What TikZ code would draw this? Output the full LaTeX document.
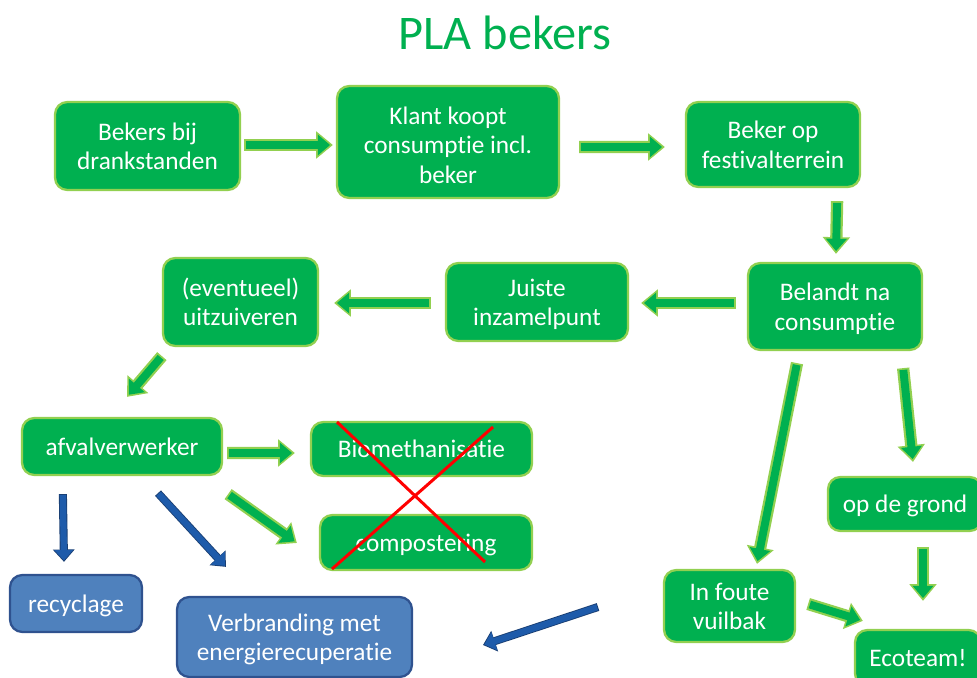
\documentclass[tikz,border=0pt]{standalone}
\usepackage{fontspec}
\setmainfont{Carlito}[Ligatures=NoCommon]
\usetikzlibrary{positioning,arrows.meta,calc}

\definecolor{gfill}{HTML}{00B050}
\definecolor{gline}{HTML}{92D050}
\definecolor{bfill}{HTML}{4F81BD}
\definecolor{bline}{HTML}{2F528F}
\definecolor{afill}{HTML}{1E5BAA}
\definecolor{aline}{HTML}{1A3F73}

\begin{document}
\begin{tikzpicture}[
  x=0.02cm, y=-0.02cm,
  box/.style={rounded corners=7pt, line width=1.3pt, text=white, align=center,
    font=\fontsize{14.4}{16.8}\selectfont, inner sep=2pt, text depth=0pt},
  r1/.style={text height=9.9pt},
  r2/.style={text height=27pt},
  r3/.style={text height=47pt},
  gbox/.style={box, draw=gline, fill=gfill},
  bbox/.style={box, draw=bline, fill=bfill},
  garrow/.style={draw=gfill, line width=4.5pt, -{Triangle[length=7pt,width=11.5pt]},
    shorten >=1.6pt, shorten <=1pt,
    preaction={draw=gline, line width=7pt, -{Triangle[length=9.5pt,width=15pt]},
      shorten >=0pt, shorten <=0pt}},
  barrow/.style={draw=afill, line width=3.6pt, -{Triangle[length=6pt,width=10.5pt]},
    shorten >=0.8pt, shorten <=0.5pt,
    preaction={draw=aline, line width=4.6pt, -{Triangle[length=7pt,width=12pt]},
      shorten >=0pt, shorten <=0pt}},
  cross/.style={draw=red, line width=1.7pt}
]
  \useasboundingbox (0,0) rectangle (977,678);

  \node[text=gfill, font=\fontsize{27.5}{30}\selectfont] (titel) at (505,33) {PLA bekers};

  % bovenste rij
  \node[gbox, r2, minimum width=3.7cm, minimum height=1.76cm]  (drank)   at (147.5,146) {Bekers bij\\drankstanden};
  \node[gbox, r3, minimum width=4.44cm, minimum height=2.24cm] (klant)   at (448,142)   {Klant koopt\\consumptie incl.\\beker};
  \node[gbox, r2, minimum width=3.48cm, minimum height=1.7cm]  (terrein) at (773,144.5) {Beker op\\festivalterrein};

  % tweede rij
  \node[gbox, r2, minimum width=3.48cm, minimum height=1.74cm] (belandt) at (835,306.5) {Belandt na\\consumptie};
  \node[gbox, r2, minimum width=3.64cm, minimum height=1.56cm] (juiste)  at (537,302)   {Juiste\\inzamelpunt};
  \node[gbox, r2, minimum width=3.1cm, minimum height=1.76cm]  (zuiver)  at (240.5,302) {(eventueel)\\uitzuiveren};

  % verwerking
  \node[gbox, r1, minimum width=4cm, minimum height=1.14cm]    (verwerker) at (122,446.5) {afvalverwerker};
  \node[gbox, r1, minimum width=4.42cm, minimum height=1.08cm] (biometh)   at (421.5,449) {Biomethanisatie};
  \node[gbox, r1, minimum width=4.24cm, minimum height=1.1cm]  (compost)   at (426,542.5) {compostering};
  \node[bbox, r1, minimum width=2.64cm, minimum height=1.14cm] (recyclage) at (76,603.5)  {recyclage};
  \node[bbox, r2, minimum width=4.7cm, minimum height=1.6cm]   (verbranding) at (294.5,637) {Verbranding met\\energierecuperatie};

  % rechts onder
  \node[gbox, r1, minimum width=3.08cm, minimum height=1.08cm] (grond)   at (905,504)   {op de grond};
  \node[gbox, r2, minimum width=2.62cm, minimum height=1.44cm] (vuilbak) at (729.5,606) {In foute\\vuilbak};
  \node[gbox, r1, minimum width=2.52cm, minimum height=1.12cm] (ecoteam) at (918,658)   {Ecoteam!};

  \coordinate (losstart) at (598,607);
  \coordinate (loseinde) at (483,645);

  % groene pijlen
  \draw[garrow] ($(drank.east)+(3,-1)$) -- ($(klant.west)+(-3,3)$);
  \draw[garrow] ($(klant.east)+(19,5)$) -- ($(terrein.west)+(-20,2.5)$);
  \draw[garrow] ($(terrein.south east)+(-24,13)$) -- ($(belandt.north)+(1,-8)$);
  \draw[garrow] ($(belandt.west)+(-11,-3.5)$) -- ($(juiste.east)+(12,1)$);
  \draw[garrow] ($(juiste.west)+(-14,1)$) -- ($(zuiver.east)+(15,1)$);
  \draw[garrow] ($(zuiver.south west)+(0,9)$) -- ($(verwerker.north)+(5,-20)$);
  \draw[garrow] ($(verwerker.east)+(4,6.5)$) -- ($(biometh.west)+(-15,4)$);
  \draw[garrow] ($(verwerker.south east)+(5,18)$) -- ($(compost.west)+(-22,0.5)$);
  \draw[garrow] ($(belandt.south)+(-38,12)$) -- ($(vuilbak.north)+(27.5,-5)$);
  \draw[garrow] ($(belandt.south east)+(-20,17)$) -- ($(grond.north)+(8,-14)$);
  \draw[garrow] ($(grond.south)+(18,15)$) -- ($(ecoteam.north)+(5,-28)$);
  \draw[garrow] ($(vuilbak.east)+(12,-2)$) -- ($(ecoteam.north west)+(9,-8)$);

  % blauwe pijlen
  \draw[barrow] ($(verwerker.south west)+(42,18)$) -- ($(recyclage.north)+(-12,-12)$);
  \draw[barrow] ($(verwerker.south)+(36,17)$) -- ($(verbranding.north west)+(50,-29)$);
  \draw[barrow] (losstart) -- (loseinde);

  % doorgestreept
  \draw[cross] (337,422) -- (485,562);
  \draw[cross] (493,427) -- (332,569);
\end{tikzpicture}
\end{document}
